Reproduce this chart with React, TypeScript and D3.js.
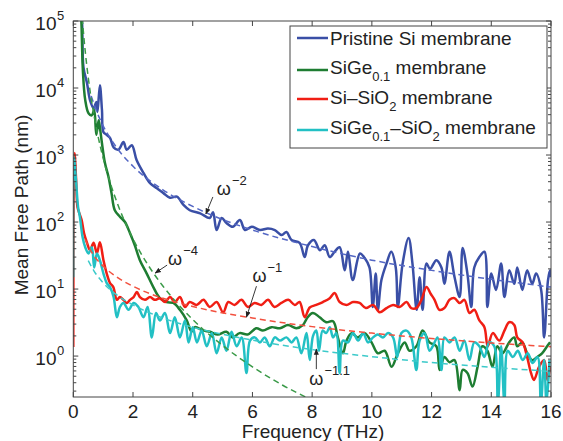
import React from "react";
import * as d3 from "d3";

// Mean free path vs frequency, four membranes + power-law guides

const FONT = '"Liberation Sans", Arial, Helvetica, sans-serif';

// --- solid curves (frequency in THz, MFP in nm) ---
const blueF = [0.25, 0.29, 0.34, 0.46, 0.56, 0.68, 0.77, 0.81, 0.89, 0.96, 1.01, 1.12, 1.23, 1.35, 1.51, 1.68, 1.79, 1.96, 2.12, 2.35, 2.57, 2.8, 3.02, 3.24, 3.47, 3.69, 3.9, 4.25, 4.57, 4.68, 4.8, 4.97, 5.13, 5.34, 5.58, 5.75, 5.98, 6.25, 6.52, 6.75, 6.98, 7.14, 7.31, 7.58, 7.75, 7.86, 8.06, 8.26, 8.42, 8.59, 8.75, 8.92, 9.09, 9.2, 9.36, 9.6, 9.76, 9.92, 10.03, 10.13, 10.2, 10.32, 10.49, 10.65, 10.8, 10.87, 11.03, 11.23, 11.36, 11.5, 11.6, 11.7, 11.83, 11.95, 12.16, 12.33, 12.43, 12.6, 12.77, 12.94, 13.04, 13.2, 13.33, 13.43, 13.6, 13.77, 13.87, 14.0, 14.16, 14.33, 14.44, 14.6, 14.77, 14.87, 15.04, 15.2, 15.37, 15.5, 15.67, 15.77, 15.9, 15.97, 16.0];
const blueV = [130000, 100000, 20500, 11800, 6600, 5000, 6200, 4400, 11000, 4700, 2200, 2000, 1800, 1300, 1200, 1560, 1200, 1400, 840, 540, 380, 320, 270, 230, 240, 180, 150, 135, 115, 140, 76, 115, 97, 85, 107, 76, 85, 76, 80, 76, 64, 71, 54, 49, 30, 45, 54, 38, 45, 30, 36, 42, 19, 36, 13.6, 34, 29, 21, 5.4, 17, 4.9, 13.6, 24, 36, 21, 5.4, 24, 58, 24, 4.9, 15, 4.9, 24, 20, 27, 21, 12, 36, 15, 7.6, 41, 17, 5.4, 21, 30, 36, 5.4, 17, 9.7, 24, 7.6, 19, 12, 21, 9.7, 19, 12, 17, 9.7, 1.9, 13.6, 19, 15];

const greenF = [0.25, 0.27, 0.32, 0.4, 0.51, 0.62, 0.7, 0.77, 0.85, 0.89, 0.96, 1.06, 1.18, 1.28, 1.39, 1.56, 1.73, 1.9, 2.06, 2.23, 2.46, 2.68, 2.9, 3.12, 3.35, 3.57, 3.8, 3.96, 4.07, 4.35, 4.58, 4.84, 5.13, 5.34, 5.57, 5.84, 6.13, 6.35, 6.64, 6.92, 7.19, 7.47, 7.69, 7.85, 8.02, 8.25, 8.47, 8.7, 8.86, 9.03, 9.15, 9.32, 9.53, 9.76, 9.99, 10.2, 10.43, 10.66, 10.87, 11.1, 11.26, 11.49, 11.7, 11.93, 12.16, 12.27, 12.43, 12.6, 12.77, 12.94, 13.04, 13.2, 13.37, 13.54, 13.7, 13.87, 14.04, 14.2, 14.37, 14.6, 14.77, 14.87, 15.04, 15.2, 15.37, 15.54, 15.7, 15.87, 15.97];
const greenV = [130000, 100000, 18600, 6600, 4200, 3900, 4700, 2000, 3300, 2600, 1500, 760, 470, 270, 150, 120, 100, 68, 45, 27, 17, 10.7, 7.3, 6.4, 6.2, 4.9, 3.4, 2.3, 2.7, 2.4, 2.3, 2.1, 2.3, 1.9, 2.2, 2.1, 2.6, 2.4, 2.7, 2.6, 2.9, 2.6, 2.9, 3.8, 4.4, 3.8, 3.2, 3.3, 1.9, 1.1, 1.7, 2.2, 1.9, 2.2, 1.6, 1.1, 1.2, 0.69, 1.1, 1.6, 1.2, 1.4, 2.4, 1.6, 1.4, 0.62, 0.97, 0.81, 0.87, 0.31, 0.62, 0.56, 0.35, 0.69, 1.4, 1.2, 0.69, 1.4, 1.1, 1.6, 1.9, 1.4, 1.6, 1.1, 0.87, 0.97, 1.1, 1.4, 1.6];

const redF = [0, 0.04, 0.09, 0.14, 0.2, 0.28, 0.36, 0.46, 0.56, 0.68, 0.79, 0.89, 1.01, 1.12, 1.23, 1.34, 1.46, 1.56, 1.68, 1.79, 1.9, 2.02, 2.13, 2.23, 2.4, 2.57, 2.73, 2.9, 3.07, 3.24, 3.4, 3.57, 3.74, 3.9, 4.13, 4.36, 4.57, 4.8, 5.02, 5.19, 5.4, 5.63, 5.85, 6.07, 6.3, 6.52, 6.74, 6.97, 7.2, 7.42, 7.58, 7.75, 7.92, 8.14, 8.36, 8.59, 8.75, 8.92, 9.15, 9.37, 9.59, 9.8, 10.04, 10.26, 10.49, 10.71, 10.93, 11.16, 11.32, 11.49, 11.66, 11.83, 11.97, 12.1, 12.26, 12.43, 12.6, 12.77, 12.94, 13.1, 13.27, 13.43, 13.6, 13.77, 13.88, 14.05, 14.27, 14.44, 14.6, 14.77, 14.87, 15.05, 15.2, 15.33, 15.43, 15.6, 15.77, 15.88, 15.97];
const redV = [1.36, 1070, 470, 167, 136, 107, 68, 49, 38, 49, 34, 50, 27, 17, 12.3, 10.7, 6.9, 7.6, 6.9, 6.2, 6.9, 7.6, 9.0, 7.6, 6.9, 7.6, 6.9, 7.3, 6.4, 7.6, 6.4, 7.6, 5.4, 6.4, 5.8, 6.9, 5.4, 6.4, 4.5, 6.4, 5.8, 6.9, 5.4, 6.2, 5.8, 6.9, 5.4, 6.2, 6.9, 5.8, 6.4, 3.8, 5.3, 5.8, 6.4, 7.3, 8.7, 6.4, 5.8, 6.4, 6.2, 5.2, 5.8, 4.5, 5.2, 5.8, 5.4, 6.4, 5.2, 5.2, 6.9, 10.7, 8.5, 6.9, 4.9, 5.2, 6.9, 7.3, 6.2, 6.9, 4.4, 4.9, 3.4, 2.7, 1.4, 2.2, 1.7, 2.4, 3.2, 2.9, 1.9, 1.6, 0.97, 0.56, 0.44, 0.69, 0.87, 0.44, 0.69];

const cyanF = [0, 0.02, 0.09, 0.16, 0.22, 0.31, 0.4, 0.51, 0.62, 0.7, 0.79, 0.89, 1.01, 1.12, 1.23, 1.35, 1.46, 1.56, 1.68, 1.85, 2.02, 2.18, 2.35, 2.49, 2.63, 2.77, 2.9, 3.07, 3.24, 3.4, 3.57, 3.74, 3.86, 4.0, 4.14, 4.3, 4.47, 4.64, 4.8, 4.97, 5.13, 5.3, 5.47, 5.64, 5.8, 5.92, 6.08, 6.25, 6.41, 6.58, 6.75, 6.92, 7.14, 7.31, 7.47, 7.64, 7.81, 7.92, 8.03, 8.14, 8.23, 8.35, 8.47, 8.59, 8.7, 8.81, 8.92, 9.03, 9.2, 9.37, 9.54, 9.71, 9.87, 10.04, 10.2, 10.37, 10.54, 10.71, 10.85, 10.99, 11.16, 11.32, 11.49, 11.6, 11.77, 11.93, 12.04, 12.2, 12.33, 12.43, 12.6, 12.77, 12.94, 13.1, 13.27, 13.43, 13.6, 13.77, 13.93, 14.1, 14.22, 14.33, 14.44, 14.55, 14.72, 14.89, 15.05, 15.22, 15.38, 15.55, 15.66, 15.77, 15.85, 15.95];
const cyanV = [15, 930, 420, 167, 120, 60, 42, 34, 42, 21, 34, 27, 17, 12.3, 10.7, 7.6, 3.8, 5.4, 6.2, 4.9, 6.2, 5.4, 3.8, 5.4, 1.9, 4.4, 3.4, 4.4, 2.2, 3.8, 1.9, 3.4, 1.6, 2.7, 1.6, 2.4, 1.4, 2.2, 1.1, 1.9, 1.2, 2.3, 1.4, 1.9, 0.56, 1.7, 1.9, 1.6, 1.9, 1.4, 1.9, 1.7, 1.9, 1.6, 1.9, 1.1, 2.2, 0.87, 2.0, 2.4, 1.2, 2.4, 2.2, 2.7, 1.9, 2.2, 0.56, 1.7, 1.6, 2.2, 1.7, 2.2, 1.6, 1.9, 2.1, 1.9, 2.2, 1.9, 0.97, 2.2, 2.4, 1.9, 0.62, 1.7, 2.2, 1.2, 1.4, 1.9, 0.62, 1.9, 1.6, 1.9, 1.2, 1.7, 0.87, 1.6, 1.4, 0.97, 1.6, 1.4, 0.2, 1.4, 0.2, 1.2, 0.97, 1.2, 0.87, 1.1, 0.79, 0.97, 0.2, 0.87, 0.2, 0.87];

// --- dashed power-law guides ---
const fitBlueF = [0.6, 0.8, 1, 1.5, 2, 3, 4, 5, 6, 8, 10, 12, 14, 16];
const fitBlueV = [7600, 4270, 2730, 1210, 680, 303, 171, 109, 76, 43, 27, 19, 14, 10.7];
const fitGreenF = [0.3, 0.35, 0.4, 0.5, 0.6, 0.7, 0.85, 1, 1.25, 1.5, 2, 2.5, 3, 3.5, 4, 5, 6, 7, 8];
const fitGreenV = [111000, 60000, 35200, 14400, 6940, 3750, 1720, 900, 369, 178, 56, 23, 11.1, 6.0, 3.5, 1.44, 0.69, 0.37, 0.22];
const fitRedF = [0.4, 0.5, 0.7, 1, 1.5, 2, 3, 4, 6, 8, 10, 12, 14, 16];
const fitRedV = [55, 44, 31, 22, 14.7, 11, 7.3, 5.5, 3.7, 2.75, 2.2, 1.83, 1.57, 1.38];
const fitCyanF = [0.5, 0.7, 1, 1.5, 2, 3, 4, 6, 8, 10, 12, 14, 16];
const fitCyanV = [26.6, 18.4, 12.4, 7.9, 5.8, 3.7, 2.7, 1.73, 1.25, 0.98, 0.8, 0.68, 0.59];

const xTicks = [0, 2, 4, 6, 8, 10, 12, 14, 16];
const yExps = [0, 1, 2, 3, 4, 5];

const BLUE = "#3a4fa6";
const GREEN = "#1e7d32";
const RED = "#f01e14";
const CYAN = "#22c0c4";

const series = [
  { f: blueF, v: blueV, color: BLUE },
  { f: greenF, v: greenV, color: GREEN },
  { f: redF, v: redV, color: RED },
  { f: cyanF, v: cyanV, color: CYAN },
];
const fits = [
  { f: fitBlueF, v: fitBlueV, color: "#5467c4" },
  { f: fitGreenF, v: fitGreenV, color: "#3a9a48" },
  { f: fitRedF, v: fitRedV, color: "#f2503e" },
  { f: fitCyanF, v: fitCyanV, color: "#3ccaca" },
];

// annotations: arrow tip in data units, tail/text offsets in px
const notes = [
  { f: 4.44, v: 132, tail: [7, -17], text: [11, -19], exp: "−2" },
  { f: 2.74, v: 17.3, tail: [12, -8], text: [13, -8], exp: "−4" },
  { f: 5.8, v: 3.8, tail: [10, -31], text: [6, -35], exp: "−1" },
  { f: 8.14, v: 1.27, tail: [0, 20], text: [-7, 36], exp: "−1.1" },
];

const W = 563;
const H = 441;
const L = 73.3, R = 551, T = 21, B = 397;

export default function App() {
  const x = d3.scaleLinear().domain([0, 16]).range([L, R]);
  const y = d3.scaleLog().domain([0.245, 1e5]).range([B, T]);

  const solid = (f: number[], v: number[]) =>
    d3
      .line<number>()
      .curve(d3.curveCatmullRom.alpha(0.5))
      .x((_, i) => x(f[i]))
      .y((d) => y(d))(v) || "";

  const dashed = (f: number[], v: number[]) =>
    d3
      .line<number>()
      .curve(d3.curveMonotoneX)
      .x((_, i) => x(f[i]))
      .y((d) => y(d))(v) || "";

  const minor: number[] = [];
  for (let e = -1; e < 5; e++) {
    for (let k = 2; k <= 9; k++) {
      const val = k * Math.pow(10, e);
      if (val >= 0.245 && val <= 1e5) minor.push(val);
    }
  }

  return (
    <svg
      width={W}
      height={H}
      style={{ position: "absolute", left: 0, top: 0, background: "#fff" }}
      fontFamily={FONT}
    >
      <defs>
        <clipPath id="plot">
          <rect x={L} y={T} width={R - L} height={B - T} />
        </clipPath>
        <marker id="ah" viewBox="0 0 10 10" refX="9" refY="5" markerWidth="7" markerHeight="7" orient="auto">
          <path d="M0,1 L10,5 L0,9 z" fill="#222" />
        </marker>
      </defs>

      <g clipPath="url(#plot)">
        {series.map((s, i) => (
          <path key={i} d={solid(s.f, s.v)} fill="none" stroke={s.color} strokeWidth={2.5} strokeLinejoin="round" />
        ))}
        {fits.map((s, i) => (
          <path
            key={"f" + i}
            d={dashed(s.f, s.v)}
            fill="none"
            stroke={s.color}
            strokeWidth={1.5}
            strokeDasharray="6,4"
          />
        ))}
      </g>

      {/* frame */}
      <rect x={L} y={T} width={R - L} height={B - T} fill="none" stroke="#444" strokeWidth={1} />

      {/* x ticks */}
      {xTicks.map((t) => (
        <g key={t}>
          <line x1={x(t)} x2={x(t)} y1={B} y2={B - 5} stroke="#444" />
          <line x1={x(t)} x2={x(t)} y1={T} y2={T + 5} stroke="#444" />
          <text x={x(t)} y={418} fontSize={19} textAnchor="middle" fill="#222">
            {t}
          </text>
        </g>
      ))}

      {/* y ticks */}
      {yExps.map((e) => {
        const yy = y(Math.pow(10, e));
        return (
          <g key={e}>
            <line x1={L} x2={L + 5} y1={yy} y2={yy} stroke="#444" />
            <line x1={R} x2={R - 5} y1={yy} y2={yy} stroke="#444" />
            <text x={56.5} y={yy + 9} fontSize={19} textAnchor="end" fill="#222">
              10
            </text>
            <text x={57} y={yy - 1} fontSize={13} fill="#222">
              {e}
            </text>
          </g>
        );
      })}
      {minor.map((m) => (
        <g key={m}>
          <line x1={L} x2={L + 3} y1={y(m)} y2={y(m)} stroke="#444" />
          <line x1={R} x2={R - 3} y1={y(m)} y2={y(m)} stroke="#444" />
        </g>
      ))}

      <text x={313} y={438} fontSize={19} textAnchor="middle" fill="#222">
        Frequency (THz)
      </text>
      <text
        transform={`translate(28,${(T + B) / 2 - 4}) rotate(-90)`}
        fontSize={19}
        textAnchor="middle"
        fill="#222"
      >
        Mean Free Path (nm)
      </text>

      {/* annotations */}
      {notes.map((n, i) => {
        const px = x(n.f);
        const py = y(n.v);
        return (
          <g key={"n" + i}>
            <line
              x1={px + n.tail[0]}
              y1={py + n.tail[1]}
              x2={px}
              y2={py}
              stroke="#222"
              strokeWidth={0.9}
              markerEnd="url(#ah)"
            />
            <text x={px + n.text[0]} y={py + n.text[1]} fontSize={18} fill="#222">
              ω
              <tspan dx={1} dy={-10} fontSize={13}>
                {n.exp}
              </tspan>
            </text>
          </g>
        );
      })}

      {/* legend */}
      <g>
        <rect x={290} y={26} width={257} height={122} fill="#fff" stroke="#444" strokeWidth={1} />
        {[
          { color: BLUE, ly: 38 },
          { color: GREEN, ly: 70 },
          { color: RED, ly: 99 },
          { color: CYAN, ly: 130 },
        ].map((r, i) => (
          <line key={i} x1={297} x2={328} y1={r.ly} y2={r.ly} stroke={r.color} strokeWidth={2.5} />
        ))}
        <text x={330} y={45} fontSize={19} fill="#222">
          Pristine Si membrane
        </text>
        <text x={330} y={74} fontSize={19} fill="#222">
          SiGe
          <tspan dy={7} fontSize={13}>0.1</tspan>
          <tspan dy={-7}> membrane</tspan>
        </text>
        <text x={330} y={104} fontSize={19} fill="#222">
          Si–SiO
          <tspan dy={7} fontSize={13}>2</tspan>
          <tspan dy={-7}> membrane</tspan>
        </text>
        <text x={330} y={134} fontSize={19} fill="#222">
          SiGe
          <tspan dy={7} fontSize={13}>0.1</tspan>
          <tspan dy={-7}>–SiO</tspan>
          <tspan dy={7} fontSize={13}>2</tspan>
          <tspan dy={-7}> membrane</tspan>
        </text>
      </g>
    </svg>
  );
}
